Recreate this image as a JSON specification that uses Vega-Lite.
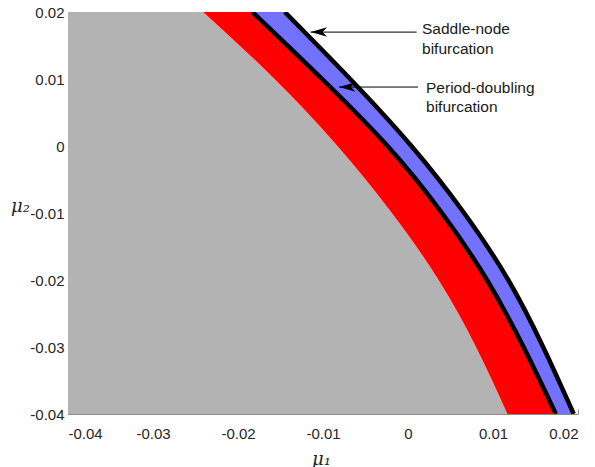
{
  "$schema": "https://vega.github.io/schema/vega-lite/v6.json",
  "width": 510,
  "height": 402,
  "autosize": "none",
  "padding": {"left": 68, "top": 12, "right": 17, "bottom": 53},
  "background": "white",
  "config": {
    "view": {"stroke": null},
    "axis": {
      "grid": false,
      "domainColor": "#8c8c8c",
      "domainWidth": 1,
      "tickColor": "#8c8c8c",
      "tickSize": -5,
      "labelFont": "Liberation Sans",
      "labelFontSize": 15,
      "labelColor": "#262626",
      "titleFont": "DejaVu Serif",
      "titleFontStyle": "italic",
      "titleFontWeight": "normal",
      "titleFontSize": 18,
      "titleColor": "#262626",
      "zindex": 1
    }
  },
  "datasets": {
    "boundaries": [
      {"mu2": 0.02, "stable_edge": -0.0241, "pd": -0.0183, "sn": -0.0145},
      {"mu2": 0.01, "stable_edge": -0.0157, "pd": -0.0101, "sn": -0.0068},
      {"mu2": 0.0, "stable_edge": -0.0083, "pd": -0.0024, "sn": 0.0004},
      {"mu2": -0.01, "stable_edge": -0.0019, "pd": 0.0040, "sn": 0.0066},
      {"mu2": -0.02, "stable_edge": 0.0036, "pd": 0.0093, "sn": 0.0118},
      {"mu2": -0.03, "stable_edge": 0.0080, "pd": 0.0136, "sn": 0.0159},
      {"mu2": -0.04, "stable_edge": 0.0117, "pd": 0.0174, "sn": 0.0195}
    ],
    "notes": [
      {"text": "Saddle-node", "x": 0.00165, "y": 0.0175},
      {"text": "bifurcation", "x": 0.00165, "y": 0.0145},
      {"text": "Period-doubling", "x": 0.00212, "y": 0.0087},
      {"text": "bifurcation", "x": 0.00212, "y": 0.0058}
    ],
    "arrows": [
      {"name": "Saddle-node", "tail": 0.00102, "tip": -0.01146, "y": 0.0170},
      {"name": "Period-doubling", "tail": 0.00118, "tip": -0.00812, "y": 0.0088}
    ]
  },
  "data": {"name": "boundaries"},
  "layer": [
    {
      "mark": {"type": "area", "orient": "horizontal", "interpolate": "natural", "color": "#b3b3b3", "clip": true},
      "encoding": {
        "y": {
          "field": "mu2", "type": "quantitative",
          "scale": {"domain": [-0.04, 0.02], "nice": false, "zero": false},
          "axis": {
            "values": [-0.04, -0.03, -0.02, -0.01, 0, 0.01, 0.02],
            "labelExpr": "toString(datum.value)",
            "labelPadding": 9,
            "title": "μ₂",
            "titleAngle": 0,
            "titleAlign": "center",
            "titleBaseline": "middle",
            "titleX": -48,
            "titleY": 194
          }
        },
        "x": {
          "field": "stable_edge", "type": "quantitative",
          "scale": {"domain": [-0.04, 0.02], "nice": false, "zero": false},
          "axis": {
            "values": [-0.04, -0.03, -0.02, -0.01, 0, 0.01, 0.02],
            "labelExpr": "toString(datum.value)",
            "labelPadding": 17,
            "title": "μ₁",
            "titleAlign": "center",
            "titleBaseline": "middle",
            "titleX": 253,
            "titleY": 45
          }
        },
        "x2": {"datum": -0.04}
      }
    },
    {
      "mark": {"type": "area", "orient": "horizontal", "interpolate": "natural", "color": "#ff0000", "clip": true},
      "encoding": {
        "y": {"field": "mu2", "type": "quantitative"},
        "x": {"field": "stable_edge", "type": "quantitative"},
        "x2": {"field": "pd"}
      }
    },
    {
      "mark": {"type": "area", "orient": "horizontal", "interpolate": "natural", "color": "#7272ff", "clip": true},
      "encoding": {
        "y": {"field": "mu2", "type": "quantitative"},
        "x": {"field": "pd", "type": "quantitative"},
        "x2": {"field": "sn"}
      }
    },
    {
      "mark": {"type": "line", "orient": "horizontal", "interpolate": "natural", "color": "black", "strokeWidth": 4.5, "clip": true},
      "encoding": {
        "y": {"field": "mu2", "type": "quantitative"},
        "x": {"field": "pd", "type": "quantitative"}
      }
    },
    {
      "mark": {"type": "line", "orient": "horizontal", "interpolate": "natural", "color": "black", "strokeWidth": 4.5, "clip": true},
      "encoding": {
        "y": {"field": "mu2", "type": "quantitative"},
        "x": {"field": "sn", "type": "quantitative"}
      }
    },
    {
      "data": {"name": "arrows"},
      "mark": {"type": "rule", "color": "black", "strokeWidth": 1},
      "encoding": {
        "x": {"field": "tail", "type": "quantitative"},
        "x2": {"field": "tip"},
        "y": {"field": "y", "type": "quantitative"}
      }
    },
    {
      "data": {"name": "arrows"},
      "mark": {"type": "point", "shape": "M0,0L1.4,-0.4L1,0L1.4,0.4Z", "filled": true, "color": "black", "opacity": 1, "size": 560},
      "encoding": {
        "x": {"field": "tip", "type": "quantitative"},
        "y": {"field": "y", "type": "quantitative"}
      }
    },
    {
      "data": {"name": "notes"},
      "mark": {"type": "text", "align": "left", "baseline": "middle", "font": "Liberation Sans", "fontSize": 15.5, "color": "#1a1a1a"},
      "encoding": {
        "x": {"field": "x", "type": "quantitative"},
        "y": {"field": "y", "type": "quantitative"},
        "text": {"field": "text"}
      }
    }
  ]
}
